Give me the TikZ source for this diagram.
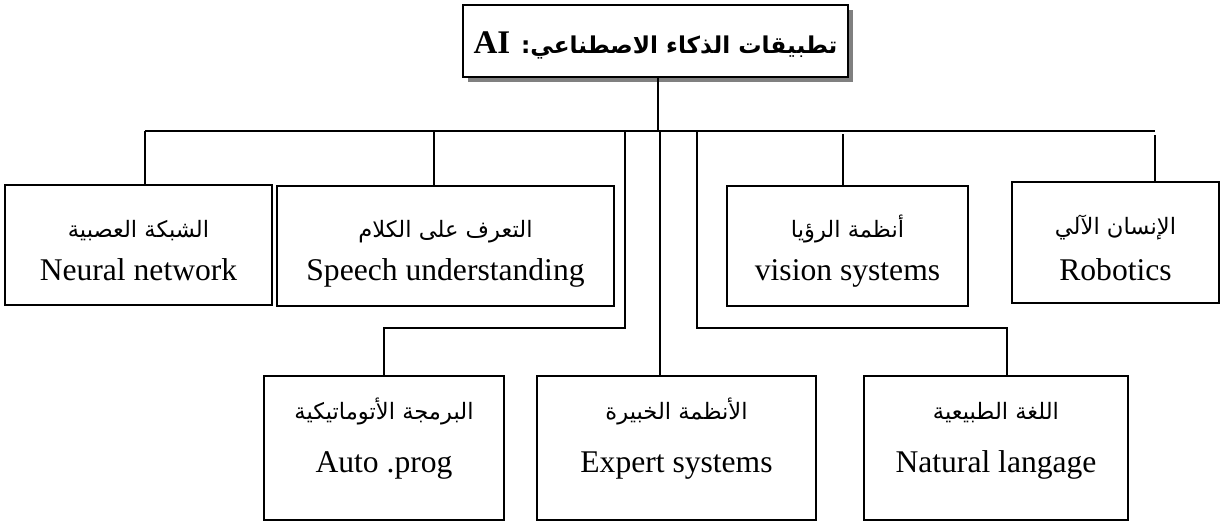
\documentclass[tikz,border=0pt]{standalone}
\usepackage{fontspec}
\setmainfont{Liberation Serif}
\newfontfamily\arabicfont[Script=Arabic]{DejaVu Sans}
\TeXXeTstate=1
\usetikzlibrary{shadows}
\definecolor{shadowgray}{HTML}{808080}

\begin{document}
\begin{tikzpicture}[x=0.5pt,y=-0.5pt,
  box/.style={draw=black, line width=1pt, fill=white, rectangle, inner sep=0pt},
  link/.style={draw=black, line width=0.8pt},
  en/.style={anchor=base, inner sep=0pt, font=\fontsize{15.8}{18}\selectfont},
  ar/.style={anchor=base, inner sep=0pt, font=\arabicfont\fontsize{11.3}{13}\selectfont},
  headtext/.style={anchor=base, inner sep=0pt, font=\bfseries\fontsize{11.6}{14}\selectfont},
]
\useasboundingbox (0,0) rectangle (1221,525);

% title box with its flat grey shadow
\node[box, line width=1.3pt, minimum width=192.5pt, minimum height=36pt,
      general shadow={fill=shadowgray, draw=none, shadow xshift=2.5pt, shadow yshift=-2.5pt}]
      (title) at (655.5,41) {};
\node[headtext] (titletext) at (655.5,53)
  {\arabicfont\beginR تطبيقات الذكاء الاصطناعي: \beginL{\fontspec{Liberation Serif}\bfseries\fontsize{16.5}{19}\selectfont AI}\endL\endR};

% upper row
\node[box, minimum width=133.5pt, minimum height=60pt] (neural)   at (138.5,245) {};
\node[box, minimum width=168.5pt, minimum height=60pt] (speech)   at (445.5,246) {};
\node[box, minimum width=120.5pt, minimum height=60pt] (vision)   at (847.5,246) {};
\node[box, minimum width=103.5pt, minimum height=60.5pt] (robotics) at (1115.5,242.5) {};

% lower row
\node[box, minimum width=120pt, minimum height=72pt] (auto)    at (384,448) {};
\node[box, minimum width=139.5pt, minimum height=72pt] (expert)  at (676.5,448) {};
\node[box, minimum width=132pt, minimum height=72pt] (natural) at (996,448) {};

% labels
\node[ar] (neural-ar)   at (138.5,237) {\beginR الشبكة العصبية\endR};
\node[en] (neural-en)   at (138.5,280) {Neural network};
\node[ar] (speech-ar)   at (445.5,237) {\beginR التعرف على الكلام\endR};
\node[en] (speech-en)   at (445.5,280) {Speech understanding};
\node[ar] (vision-ar)   at (847.5,237) {\beginR أنظمة الرؤيا\endR};
\node[en] (vision-en)   at (847.5,280) {vision systems};
\node[ar] (robotics-ar) at (1115.5,234) {\beginR الإنسان الآلي\endR};
\node[en] (robotics-en) at (1115.5,280) {Robotics};
\node[ar] (auto-ar)     at (384,419) {\beginR البرمجة الأتوماتيكية\endR};
\node[en] (auto-en)     at (384,472) {Auto .prog};
\node[ar] (expert-ar)   at (676.5,419) {\beginR الأنظمة الخبيرة\endR};
\node[en] (expert-en)   at (676.5,472) {Expert systems};
\node[ar] (natural-ar)  at (996,419) {\beginR اللغة الطبيعية\endR};
\node[en] (natural-en)  at (996,472) {Natural langage};

% bus and branch points
\coordinate (stem) at (658,131);
\coordinate (busL) at (145,131);
\coordinate (busR) at (1155,131);
\coordinate (sp)   at (434,131);
\coordinate (au)   at (625,131);
\coordinate (ex)   at (660,131);
\coordinate (na)   at (697,131);
\coordinate (vi)   at (843,134);
\coordinate (ro)   at (1155,135);
\coordinate (auElbow) at (625,328);
\coordinate (naElbow) at (697,328);
\coordinate (naTop)   at (1007,376);

\draw[link] (title.south -| stem) -- (stem);
\draw[link] (busL) -- (busR);
\draw[link] (busL) -- (busL |- neural.north);
\draw[link] (sp) -- (sp |- speech.north);
\draw[link] (vi) -- (vi |- vision.north);
\draw[link] (ro) -- (ro |- robotics.north);
\draw[link] (au) -- (auElbow) -| (auto.north);
\draw[link] (ex) -- (ex |- expert.north);
\draw[link] (na) -- (naElbow) -| (naTop);
\end{tikzpicture}
\end{document}
